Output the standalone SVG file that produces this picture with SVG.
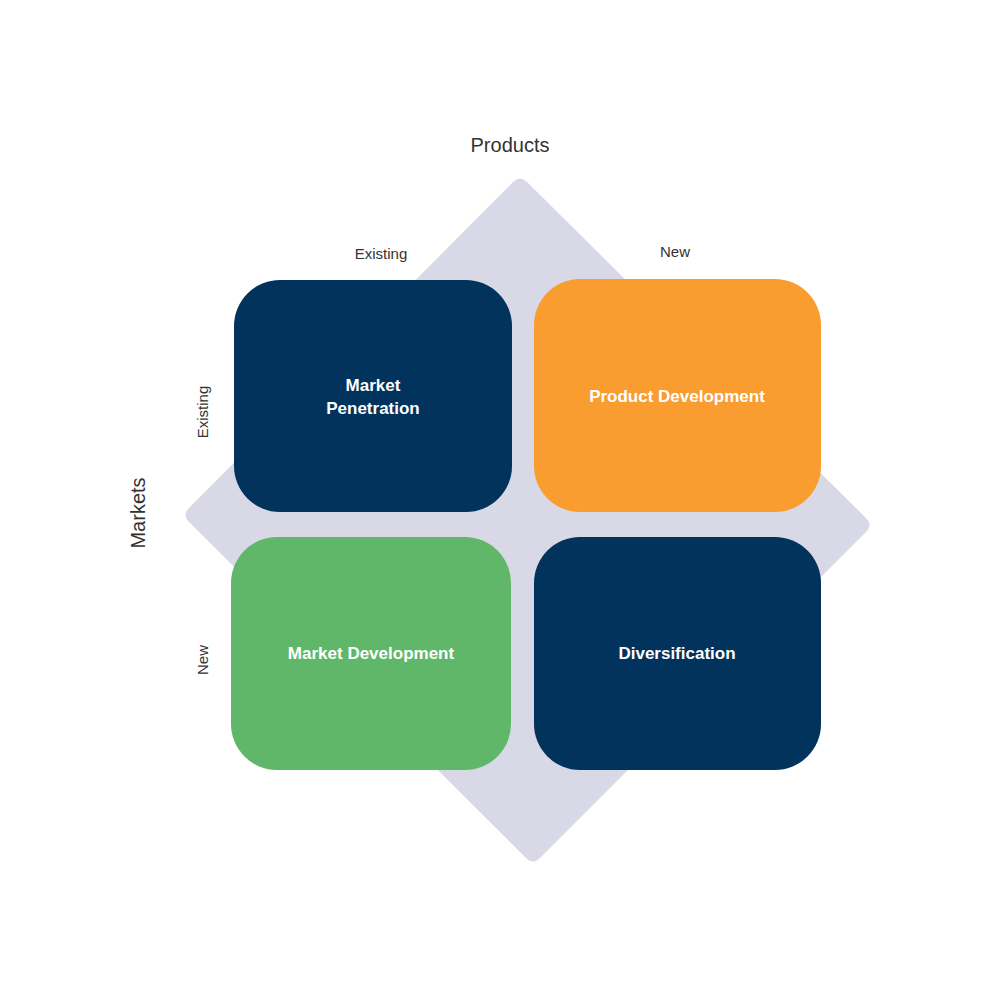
<svg xmlns="http://www.w3.org/2000/svg" width="1000" height="1000" viewBox="0 0 1000 1000">
<style>
.lbl{font-family:"Liberation Sans",Arial,sans-serif;fill:#333;text-anchor:middle}
.nt{font-family:"Liberation Sans",Arial,sans-serif;fill:#fff;font-size:17px;font-weight:bold;text-anchor:middle}
</style>
<rect width="1000" height="1000" fill="#fff"/>
<path d="M513,182 Q520,175 527,182 L866,518 Q873,525 866,532 L540,858 Q533,865 526,858 L189,522 Q182,515 189,508 Z" fill="#D9D8E6"/>
<text class="lbl" x="510" y="152" font-size="20">Products</text>
<text class="lbl" x="381" y="259" font-size="15">Existing</text>
<text class="lbl" x="675" y="257" font-size="15">New</text>
<text class="lbl" font-size="20" transform="translate(145,513) rotate(-90)">Markets</text>
<text class="lbl" font-size="15" transform="translate(208,412) rotate(-90)">Existing</text>
<text class="lbl" font-size="15" transform="translate(208,660) rotate(-90)">New</text>
<g id="market-penetration"><rect x="234" y="280" width="278" height="232" rx="46" fill="#01335D"/><text class="nt" x="373" y="391">Market</text><text class="nt" x="373" y="414">Penetration</text></g>
<g id="product-development"><rect x="534" y="279" width="287" height="233" rx="46" fill="#F99D31"/><text class="nt" x="677" y="402">Product Development</text></g>
<g id="market-development"><rect x="231" y="537" width="280" height="233" rx="46" fill="#60B769"/><text class="nt" x="371" y="659">Market Development</text></g>
<g id="diversification"><rect x="534" y="537" width="287" height="233" rx="46" fill="#01335D"/><text class="nt" x="677" y="659">Diversification</text></g>
<g id="connectors"/>
</svg>
